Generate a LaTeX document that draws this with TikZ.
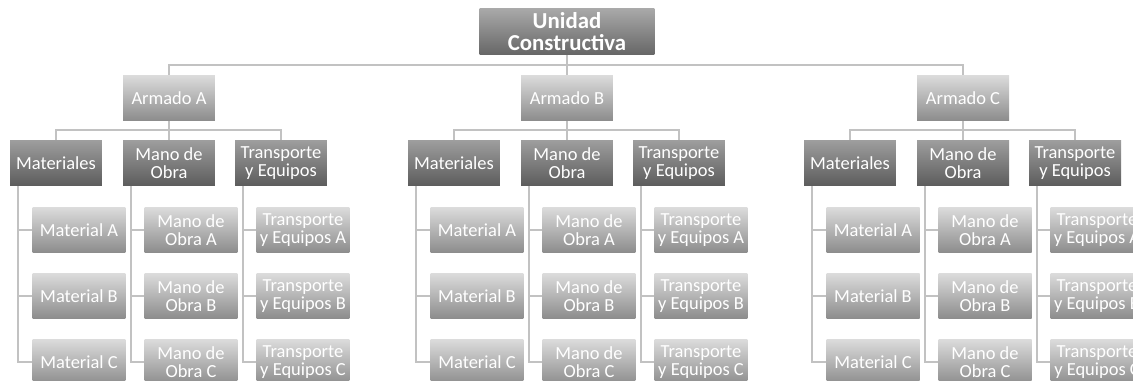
\documentclass[tikz,border=0pt]{standalone}
\usepackage{fontspec}
\setmainfont{Carlito}
\usetikzlibrary{calc}

\definecolor{linkgray}{gray}{0.76}
\definecolor{rootTop}{gray}{0.66}
\definecolor{rootBot}{gray}{0.40}
\definecolor{lightTop}{gray}{0.86}
\definecolor{lightBot}{gray}{0.55}
\definecolor{darkTop}{gray}{0.62}
\definecolor{darkBot}{gray}{0.36}

\begin{document}
\begin{tikzpicture}[x=0.02cm,y=-0.02cm,
        base/.style={rectangle,align=center,text=white,inner sep=1pt,
            font=\fontsize{10.5}{10.5}\selectfont},
        head/.style={base,minimum width=3.5cm,minimum height=0.92cm,
            top color=rootTop,bottom color=rootBot,
            font=\bfseries\fontsize{13}{12.5}\selectfont},
        armado/.style={base,minimum width=1.84cm,minimum height=0.9cm,
            top color=lightTop,bottom color=lightBot},
        branch/.style={base,minimum width=1.84cm,minimum height=0.92cm,
            top color=darkTop,bottom color=darkBot},
        leaf/.style={base,minimum width=1.86cm,minimum height=0.9cm,
            top color=lightTop,bottom color=lightBot},
        link/.style={draw=linkgray,line width=1.1pt},
        fork/.style={to path={|- ($(\tikztostart)!0.5!(\tikztotarget)$) -| (\tikztotarget)}}]
        \useasboundingbox (0,0) rectangle (1133,381);
        \clip (0,0) rectangle (1133,381);

        % Top of the chart
        \node[head] (r0) at (567,32) {Unidad\\Constructiva};

        % First group on the left
        \begin{scope}[shift={(169,0)}]
            \node[armado] (a0) at (0,98) {Armado A};
            \node[branch] (a1) at (-113,163) {Materiales};
            \node[branch] (a2) at (0,163) {Mano de\\Obra};
            \node[branch] (a3) at (112,163) {Transporte\\y Equipos};
            \node[leaf] (a11) at (-90,230) {Material A};
            \node[leaf] (a12) at (-90,296) {Material B};
            \node[leaf] (a13) at (-90,362) {Material C};
            \node[leaf] (a21) at (22,230) {Mano de\\Obra A};
            \node[leaf] (a22) at (22,296) {Mano de\\Obra B};
            \node[leaf] (a23) at (22,362) {Mano de\\Obra C};
            \node[leaf] (a31) at (134,230) {Transporte\\y Equipos A};
            \node[leaf] (a32) at (134,296) {Transporte\\y Equipos B};
            \node[leaf] (a33) at (134,362) {Transporte\\y Equipos C};
        \end{scope}

        % Second group in the middle, right under the top box
        \begin{scope}[shift={(567,0)}]
            \node[armado] (b0) at (0,98) {Armado B};
            \node[branch] (b1) at (-113,163) {Materiales};
            \node[branch] (b2) at (0,163) {Mano de\\Obra};
            \node[branch] (b3) at (112,163) {Transporte\\y Equipos};
            \node[leaf] (b11) at (-90,230) {Material A};
            \node[leaf] (b12) at (-90,296) {Material B};
            \node[leaf] (b13) at (-90,362) {Material C};
            \node[leaf] (b21) at (22,230) {Mano de\\Obra A};
            \node[leaf] (b22) at (22,296) {Mano de\\Obra B};
            \node[leaf] (b23) at (22,362) {Mano de\\Obra C};
            \node[leaf] (b31) at (134,230) {Transporte\\y Equipos A};
            \node[leaf] (b32) at (134,296) {Transporte\\y Equipos B};
            \node[leaf] (b33) at (134,362) {Transporte\\y Equipos C};
        \end{scope}

        % Third group on the right; its last column runs off the page
        \begin{scope}[shift={(963,0)}]
            \node[armado] (c0) at (0,98) {Armado C};
            \node[branch] (c1) at (-113,163) {Materiales};
            \node[branch] (c2) at (0,163) {Mano de\\Obra};
            \node[branch] (c3) at (112,163) {Transporte\\y Equipos};
            \node[leaf] (c11) at (-90,230) {Material A};
            \node[leaf] (c12) at (-90,296) {Material B};
            \node[leaf] (c13) at (-90,362) {Material C};
            \node[leaf] (c21) at (22,230) {Mano de\\Obra A};
            \node[leaf] (c22) at (22,296) {Mano de\\Obra B};
            \node[leaf] (c23) at (22,362) {Mano de\\Obra C};
            \node[leaf] (c31) at (134,230) {Transporte\\y Equipos A};
            \node[leaf] (c32) at (134,296) {Transporte\\y Equipos B};
            \node[leaf] (c33) at (134,362) {Transporte\\y Equipos C};
        \end{scope}

        % connectors
        \draw[link] (r0.south) to[fork] (a0.north) (r0.south) to[fork] (b0.north)
            (r0.south) to[fork] (c0.north);
        \draw[link] (a0.south) to[fork] (a1.north) (a0.south) to[fork] (a2.north)
            (a0.south) to[fork] (a3.north);
        \draw[link] (b0.south) to[fork] (b1.north) (b0.south) to[fork] (b2.north)
            (b0.south) to[fork] (b3.north);
        \draw[link] (c0.south) to[fork] (c1.north) (c0.south) to[fork] (c2.north)
            (c0.south) to[fork] (c3.north);
        % side rails down to the last row
        \draw[link] ([xshift=-0.76cm]a1.south) |- (a11.west) ([xshift=-0.76cm]a1.south) |- (a12.west)
            ([xshift=-0.76cm]a1.south) |- (a13.west);
        \draw[link] ([xshift=-0.76cm]a2.south) |- (a21.west) ([xshift=-0.76cm]a2.south) |- (a22.west)
            ([xshift=-0.76cm]a2.south) |- (a23.west);
        \draw[link] ([xshift=-0.76cm]a3.south) |- (a31.west) ([xshift=-0.76cm]a3.south) |- (a32.west)
            ([xshift=-0.76cm]a3.south) |- (a33.west);
        \draw[link] ([xshift=-0.76cm]b1.south) |- (b11.west) ([xshift=-0.76cm]b1.south) |- (b12.west)
            ([xshift=-0.76cm]b1.south) |- (b13.west);
        \draw[link] ([xshift=-0.76cm]b2.south) |- (b21.west) ([xshift=-0.76cm]b2.south) |- (b22.west)
            ([xshift=-0.76cm]b2.south) |- (b23.west);
        \draw[link] ([xshift=-0.76cm]b3.south) |- (b31.west) ([xshift=-0.76cm]b3.south) |- (b32.west)
            ([xshift=-0.76cm]b3.south) |- (b33.west);
        \draw[link] ([xshift=-0.76cm]c1.south) |- (c11.west) ([xshift=-0.76cm]c1.south) |- (c12.west)
            ([xshift=-0.76cm]c1.south) |- (c13.west);
        \draw[link] ([xshift=-0.76cm]c2.south) |- (c21.west) ([xshift=-0.76cm]c2.south) |- (c22.west)
            ([xshift=-0.76cm]c2.south) |- (c23.west);
        \draw[link] ([xshift=-0.76cm]c3.south) |- (c31.west) ([xshift=-0.76cm]c3.south) |- (c32.west)
            ([xshift=-0.76cm]c3.south) |- (c33.west);
    \end{tikzpicture}
\end{document}
